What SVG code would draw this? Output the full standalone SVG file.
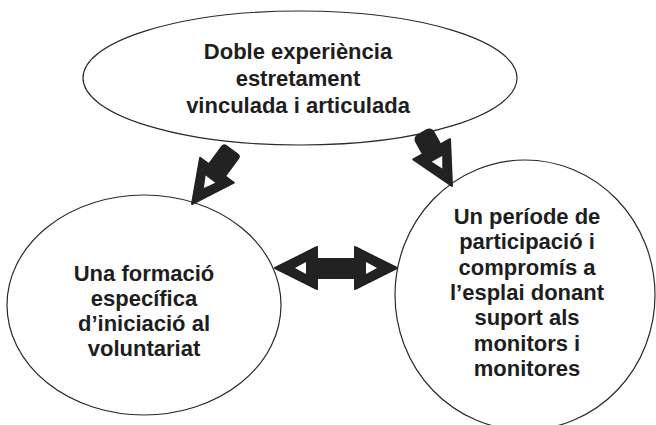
<svg xmlns="http://www.w3.org/2000/svg" xmlns:xlink="http://www.w3.org/1999/xlink" width="656" height="425" viewBox="0 0 656 425">
<style>
.node{fill:#fff;stroke:#2a2a2a;stroke-width:1.2}
.t{font-family:"Liberation Sans",Arial,sans-serif;font-weight:bold;font-size:22px;fill:#1e1e1e;text-anchor:middle}
.blk{fill:#222}
</style>
<defs>
<g id="head">
<polygon class="blk" points="0,0 -42,-21 -42,21" stroke="#222" stroke-width="2" stroke-linejoin="round"/>
<polygon points="-20,0 -31,-6 -31,6" fill="#fff"/>
</g>
</defs>
<rect width="656" height="425" fill="#fff"/>
<g id="node-top">
<ellipse class="node" cx="300" cy="78" rx="217" ry="67"/>
<text class="t" x="298" y="59">Doble experiència</text>
<text class="t" x="298" y="86">estretament</text>
<text class="t" x="298" y="113">vinculada i articulada</text>
</g>
<g id="node-left">
<ellipse class="node" cx="144" cy="305" rx="137" ry="110"/>
<text class="t" x="144" y="281">Una formació</text>
<text class="t" x="144" y="306">específica</text>
<text class="t" x="144" y="331">d’iniciació al</text>
<text class="t" x="144" y="356">voluntariat</text>
</g>
<g id="node-right">
<ellipse class="node" cx="525" cy="295" rx="130" ry="135"/>
<text class="t" x="527" y="224">Un període de</text>
<text class="t" x="527" y="249">participació i</text>
<text class="t" x="527" y="275">compromís a</text>
<text class="t" x="527" y="300">l’esplai donant</text>
<text class="t" x="527" y="325">suport als</text>
<text class="t" x="527" y="351">monitors i</text>
<text class="t" x="527" y="376">monitores</text>
</g>
<g id="connectors">
<g transform="translate(192,204) rotate(126.5)">
<use href="#head" xlink:href="#head"/>
<rect class="blk" x="-68" y="-11" width="30" height="22" rx="4"/>
</g>
<g transform="translate(452,186) rotate(61)">
<use href="#head" xlink:href="#head"/>
<rect class="blk" x="-62" y="-11" width="24" height="22" rx="6"/>
</g>
<g>
<rect class="blk" x="314" y="258" width="46" height="21"/>
<use href="#head" xlink:href="#head" transform="translate(275,268) rotate(180)"/>
<use href="#head" xlink:href="#head" transform="translate(397,268)"/>
</g>
</g>
</svg>
